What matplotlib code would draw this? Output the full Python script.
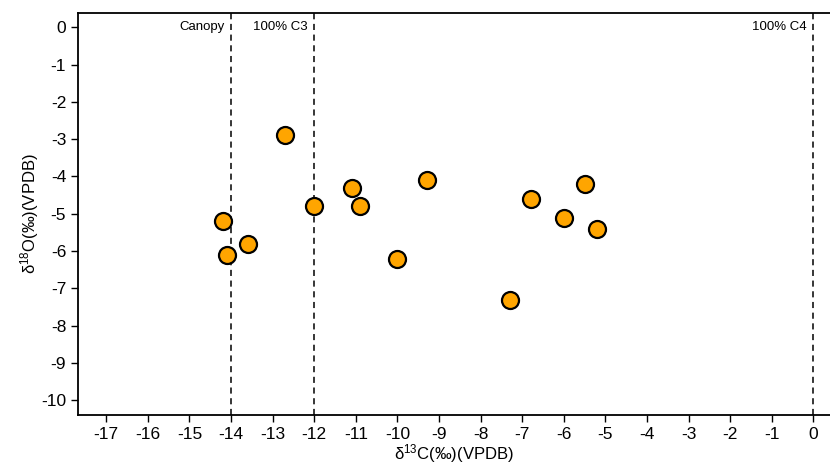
import matplotlib.pyplot as plt

plt.rcParams['font.family'] = ['Liberation Sans', 'DejaVu Sans']
plt.rcParams['axes.unicode_minus'] = False

# isotope values
d13c = [-14.2, -14.1, -13.6, -12.7, -12.0, -11.1, -10.9, -10.0, -9.3, -7.3, -6.8, -6.0, -5.5, -5.2]
d18o = [-5.2, -6.1, -5.8, -2.9, -4.8, -4.3, -4.8, -6.2, -4.1, -7.3, -4.6, -5.1, -4.2, -5.4]

ref_x = [-14, -12, 0]
ref_labels = ['Canopy', '100% C3', '100% C4']

xticks = list(range(-17, 1))
yticks = list(range(0, -11, -1))

fig = plt.figure(figsize=(8.3, 4.65), dpi=100)
ax = fig.add_axes([78 / 830, 1 - 415 / 465, 1 - 78 / 830, (415 - 13) / 465])

for xv, lab in zip(ref_x, ref_labels):
    ax.axvline(xv, color='black', linestyle=(0, (4, 3)), linewidth=1.1, zorder=1)
    ax.text(xv - 0.15, 0.0, lab, ha='right', va='center', fontsize=9.5)

ax.scatter(d13c, d18o, s=150, facecolor='#FFA500', edgecolor='black', linewidth=1.6, zorder=3)

ax.set_xlim(-17.68, 0.4)
ax.set_ylim(-10.39, 0.38)
ax.set_xticks(xticks)
ax.set_yticks(yticks)
ax.tick_params(direction='out', length=5, width=1, labelsize=12.5)
for sp in ax.spines.values():
    sp.set_linewidth(1.3)
ax.spines['right'].set_visible(False)

ax.set_xlabel(r'$\mathregular{\delta^{13}C(‰)(VPDB)}$', fontsize=12, labelpad=0)
ax.set_ylabel(r'$\mathregular{\delta^{18}O(‰)(VPDB)}$', fontsize=12, labelpad=0)

fig.savefig('out.png', dpi=100)
